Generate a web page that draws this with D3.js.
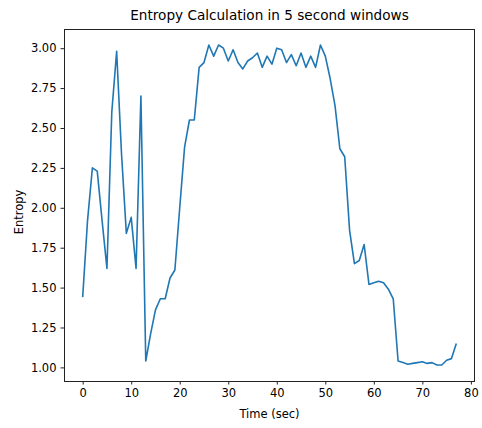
<!DOCTYPE html>
<html lang="en">
  <head>
    <meta charset="UTF-8" />
    <title>entropy</title>
    <style>
      body { margin: 0; background: #fff; }
      svg text { font-family: "DejaVu Sans", sans-serif; fill: #000; }
    </style>
  </head>
  <body>
    <svg id="chart" width="482" height="428"></svg>
    <script src="https://cdn.jsdelivr.net/npm/d3@7"></script>
    <script>
      // entropy per 5 second window, one value per second (0..77)
      var entropy = [
        1.44, 1.92, 2.25, 2.23, 1.92, 1.62, 2.60, 2.98, 2.34, 1.84,
        1.94, 1.62, 2.70, 1.04, 1.21, 1.36, 1.43, 1.43, 1.56, 1.61,
        2.00, 2.38, 2.55, 2.55, 2.88, 2.91, 3.02, 2.95, 3.02, 3.00,
        2.92, 2.99, 2.91, 2.87, 2.92, 2.94, 2.97, 2.88, 2.95, 2.90,
        3.00, 2.99, 2.91, 2.96, 2.89, 2.97, 2.88, 2.95, 2.88, 3.02,
        2.95, 2.81, 2.64, 2.37, 2.32, 1.86, 1.65, 1.67, 1.77, 1.52,
        1.53, 1.54, 1.53, 1.49, 1.43, 1.04, 1.03, 1.02, 1.025, 1.03,
        1.035, 1.025, 1.03, 1.015, 1.015, 1.045, 1.055, 1.15
      ];
      var seconds = entropy.map((d, i) => i);
      var xTicks = [0, 10, 20, 30, 40, 50, 60, 70, 80];
      var yTicks = [1.00, 1.25, 1.50, 1.75, 2.00, 2.25, 2.50, 2.75, 3.00];

      var margin = { top: 29, right: 7, bottom: 47, left: 64 };
      var width = 482, height = 428;

      const svg = d3.select('#chart');

      // matplotlib style 5% padding on both axes
      var xMin = d3.min(seconds), xMax = d3.max(seconds);
      var yMin = d3.min(entropy), yMax = d3.max(entropy);
      var xPad = (xMax - xMin) * 0.05, yPad = (yMax - yMin) * 0.05;

      const x = d3.scaleLinear()
        .domain([xMin - xPad, xMax + xPad])
        .range([margin.left, width - margin.right]);
      const y = d3.scaleLinear()
        .domain([yMin - yPad, yMax + yPad])
        .range([height - margin.bottom, margin.top]);

      svg.append('g')
        .attr('transform', `translate(0,${height - margin.bottom})`)
        .call(d3.axisBottom(x).tickValues(xTicks).tickFormat(d3.format('d')).tickSize(3.5).tickPadding(4))
        .call(g => g.select('.domain').remove())
        .call(g => g.selectAll('text').style('font-size', '11.5px'));

      svg.append('g')
        .attr('transform', `translate(${margin.left},0)`)
        .call(d3.axisLeft(y).tickValues(yTicks).tickFormat(d3.format('.2f')).tickSize(3.5).tickPadding(4))
        .call(g => g.select('.domain').remove())
        .call(g => g.selectAll('text').style('font-size', '11.5px'));

      svg.selectAll('.tick line').attr('stroke', '#222');

      svg.append('path')
        .datum(entropy)
        .attr('fill', 'none')
        .attr('stroke', '#1f77b4')
        .attr('stroke-width', 1.6)
        .attr('stroke-linejoin', 'round')
        .attr('d', d3.line().x((d, i) => x(seconds[i])).y(d => y(d)));

      // frame
      svg.append('rect')
        .attr('x', margin.left + 0.5)
        .attr('y', margin.top + 0.5)
        .attr('width', width - margin.left - margin.right - 1)
        .attr('height', height - margin.top - margin.bottom)
        .attr('fill', 'none')
        .attr('stroke', '#222')
        .attr('stroke-width', 1);

      svg.append('text')
        .attr('x', (margin.left + width - margin.right) / 2)
        .attr('y', 20)
        .attr('text-anchor', 'middle')
        .style('font-size', '13.6px')
        .text('Entropy Calculation in 5 second windows');

      svg.append('text')
        .attr('x', (margin.left + width - margin.right) / 2)
        .attr('y', 418)
        .attr('text-anchor', 'middle')
        .style('font-size', '11.5px')
        .text('Time (sec)');

      svg.append('text')
        .attr('transform', 'translate(23,212) rotate(-90)')
        .attr('text-anchor', 'middle')
        .style('font-size', '11.5px')
        .text('Entropy');
    </script>
  </body>
</html>
